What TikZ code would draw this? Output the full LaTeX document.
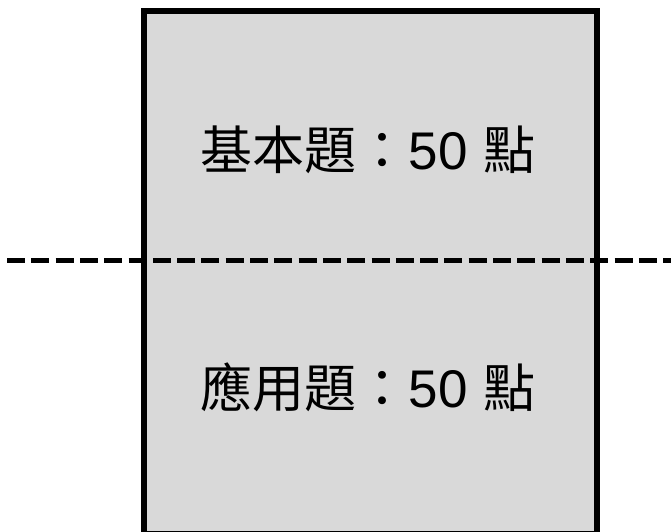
\documentclass[tikz,border=0pt]{standalone}
\usepackage{fontspec}
\newfontfamily\cjk{Noto Sans CJK TC}
\newfontfamily\arial{Liberation Sans}
\definecolor{boxgray}{HTML}{D9D9D9}
\begin{document}
\begin{tikzpicture}[x=1pt,y=1pt,
  panel/.style={draw=black,line width=6pt,fill=boxgray,outer sep=0pt,inner sep=0pt},
  divider/.style={draw=black,line width=5pt,dash pattern=on 18pt off 6.3pt},
  label/.style={anchor=base,inner sep=0pt,font=\fontsize{52}{60}\selectfont}]
\useasboundingbox (0,0) rectangle (671,531);
\clip (0,0) rectangle (671,531);
\node[panel,minimum width=453.3pt,minimum height=522.3pt,anchor=north west] (box) at (143.7,519.5) {};
\coordinate (dl) at (7,270.3);
\coordinate (dr) at (671,270.3);
\draw[divider] (dl) -- (dr);
\node[label] (top) at (368,362) {{\cjk 基本題：}{\arial\fontsize{53}{60}\selectfont 50} {\cjk 點}};
\node[label] (bot) at (368,124) {{\cjk 應用題：}{\arial\fontsize{53}{60}\selectfont 50} {\cjk 點}};
\end{tikzpicture}
\end{document}
